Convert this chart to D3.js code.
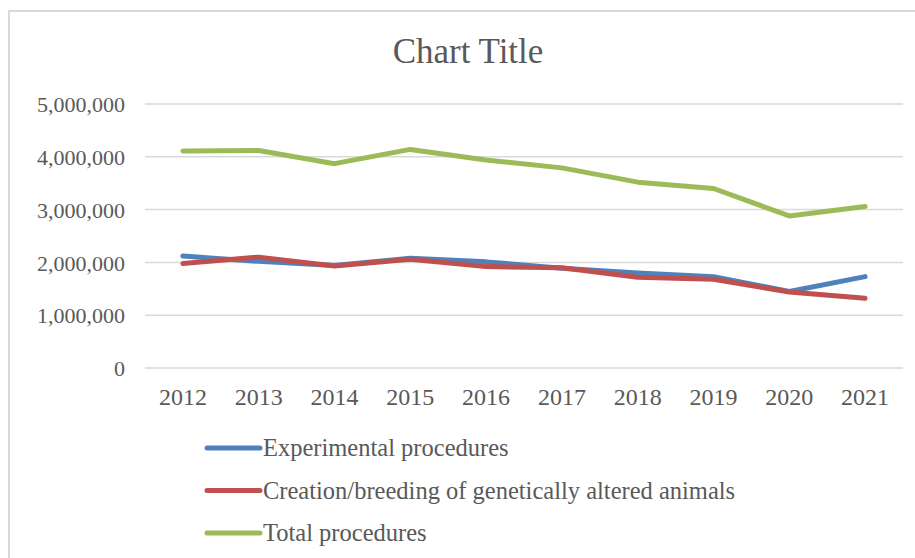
<!DOCTYPE html>
<html>
<head>
<meta charset="utf-8">
<script src="https://cdn.jsdelivr.net/npm/d3@7"></script>
<style>
body { margin: 0; background: #fff; }
svg text { font-family: "Liberation Serif", "DejaVu Serif", serif; fill: #595959; }
</style>
</head>
<body>
<div id="chart"></div>
<script>
// data
var years = ["2012", "2013", "2014", "2015", "2016", "2017", "2018", "2019", "2020", "2021"];
var experimental = [2120000, 2020000, 1940000, 2080000, 2010000, 1890000, 1800000, 1730000, 1450000, 1730000];
var breeding = [1980000, 2100000, 1930000, 2060000, 1920000, 1900000, 1720000, 1680000, 1440000, 1320000];
var total = [4110000, 4120000, 3870000, 4140000, 3940000, 3790000, 3520000, 3400000, 2880000, 3060000];
var yTicks = [0, 1000000, 2000000, 3000000, 4000000, 5000000];
var seriesNames = ["Experimental procedures", "Creation/breeding of genetically altered animals", "Total procedures"];
var colors = ["#4f81bd", "#c0504d", "#9bbb59"];

var W = 915, H = 558;
var margin = {top: 104, right: 12, bottom: 190, left: 145},
	width = W - margin.left - margin.right,
	height = H - margin.top - margin.bottom;

var svg = d3.select("#chart").append("svg")
	.attr("width", W)
	.attr("height", H);

// chart area border
svg.append("rect")
	.attr("x", 9).attr("y", 11)
	.attr("width", W + 20).attr("height", H + 20)
	.attr("fill", "none")
	.attr("stroke", "#d9d9d9")
	.attr("stroke-width", 2);

svg.append("text")
	.attr("x", 468)
	.attr("y", 63)
	.attr("text-anchor", "middle")
	.style("font-size", "35px")
	.text("Chart Title");

var g = svg.append("g")
	.attr("transform", "translate(" + margin.left + "," + margin.top + ")");

var x = d3.scaleBand()
	.domain(years)
	.range([0, width]);
var y = d3.scaleLinear()
	.domain([0, 5000000])
	.range([height, 0]);

//gridlines
g.selectAll(".grid")
	.data(yTicks)
	.enter().append("line")
		.attr("class", "grid")
		.attr("x1", 0)
		.attr("x2", width)
		.attr("y1", function(d){return y(d);})
		.attr("y2", function(d){return y(d);})
		.attr("stroke", "#d9d9d9")
		.attr("stroke-width", 1.5);

//y axis
var yAxis = g.append("g")
	.call(d3.axisLeft(y).tickValues(yTicks).tickSize(0).tickPadding(20).tickFormat(d3.format(",")));
yAxis.select(".domain").remove();
yAxis.selectAll("text").style("font-size", "22px").attr("dy", "0.35em");

//x axis
var xAxis = g.append("g")
	.attr("transform", "translate(0," + height + ")")
	.call(d3.axisBottom(x).tickSize(0).tickPadding(20));
xAxis.select(".domain").remove();
xAxis.selectAll("text").style("font-size", "24px").attr("dy", "0.71em");

var all = [experimental, breeding, total];
var line = d3.line()
	.x(function(d, i){return x(years[i]) + x.bandwidth() / 2;})
	.y(function(d){return y(d);});

g.selectAll(".series")
	.data(all)
	.enter().append("path")
		.attr("class", "series")
		.attr("d", function(d){return line(d);})
		.attr("fill", "none")
		.attr("stroke", function(d, i){return colors[i];})
		.attr("stroke-width", 5)
		.attr("stroke-linecap", "round")
		.attr("stroke-linejoin", "round");

//legend
var legend = svg.selectAll(".legend")
	.data(seriesNames)
	.enter().append("g")
		.attr("class", "legend")
		.attr("transform", function(d, i){return "translate(205," + (448 + i * 42.5) + ")";});
legend.append("line")
	.attr("x1", 2).attr("x2", 55)
	.attr("stroke", function(d, i){return colors[i];})
	.attr("stroke-width", 5)
	.attr("stroke-linecap", "round");
legend.append("text")
	.attr("x", 58)
	.attr("dy", "0.33em")
	.style("font-size", "24.5px")
	.text(function(d){return d;});
</script>
</body>
</html>
